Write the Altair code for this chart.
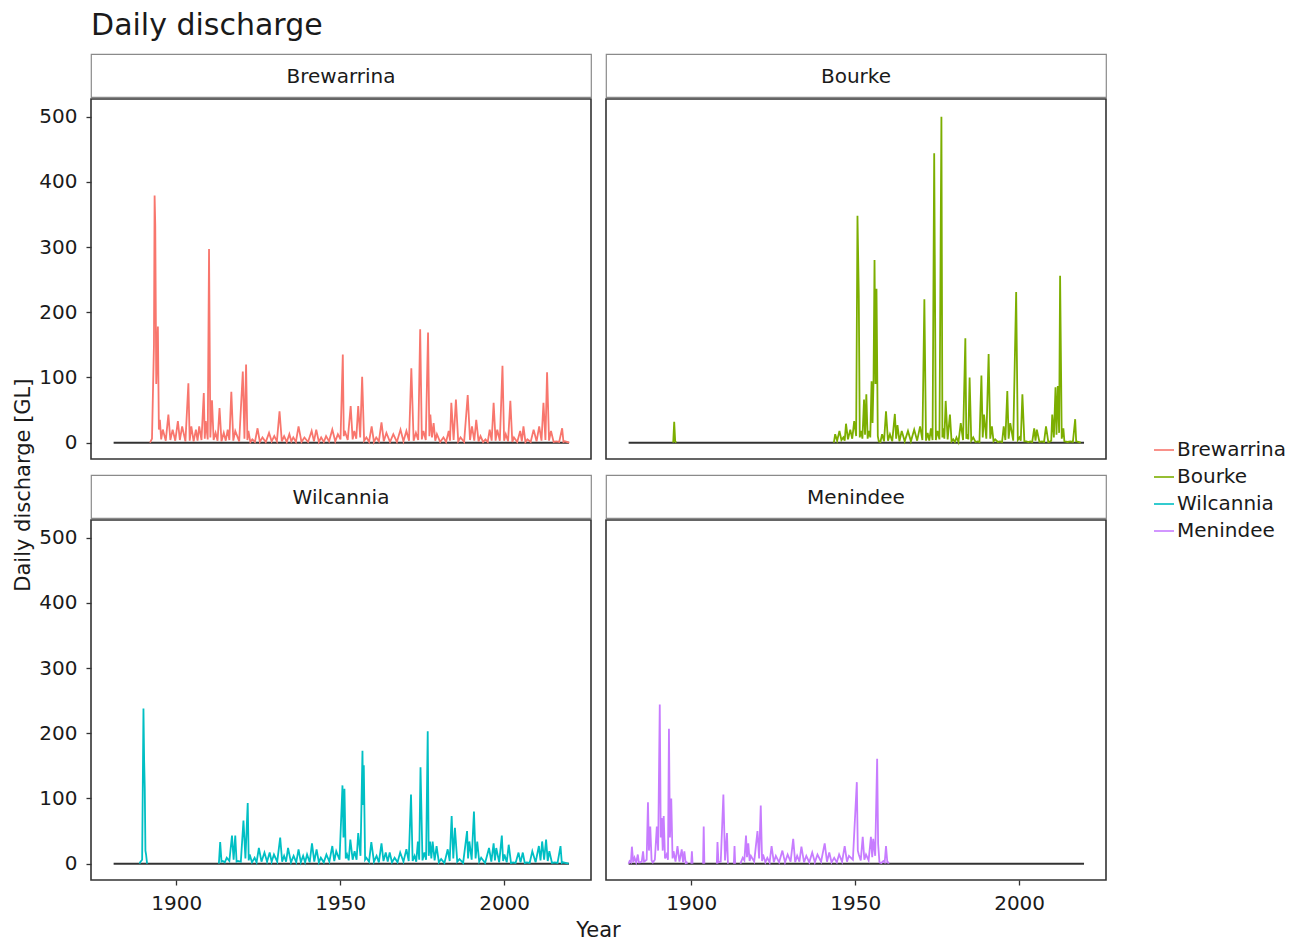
import altair as alt
import pandas as pd

stations = ["Brewarrina", "Bourke", "Wilcannia", "Menindee"]
colors = ["#F8766D", "#7CAE00", "#00BFC4", "#C77CFF"]

x_ticks = [1900, 1950, 2000]
y_ticks = [0, 100, 200, 300, 400, 500]

# Brewarrina daily discharge (GL)
bre_year = [1892.0, 1892.6, 1893.2, 1893.4, 1893.6, 1893.9, 1894.4, 1894.7, 1895.0, 1895.4, 1895.9, 1896.8, 1897.6, 1898.2, 1898.9, 1899.7,
            1900.5, 1901.1, 1901.8, 1902.8, 1903.7, 1904.1, 1904.6, 1905.3, 1906.0, 1906.5, 1907.0, 1907.7, 1908.4, 1908.7, 1909.0, 1909.6,
            1910.0, 1910.4, 1910.9, 1911.4, 1912.0, 1912.6, 1913.2, 1913.8, 1914.5, 1915.1, 1915.7, 1916.2, 1916.8, 1917.4, 1918.0, 1919.2,
            1920.3, 1920.8, 1921.3, 1921.7, 1922.0, 1922.6, 1923.2, 1924.0, 1924.8, 1925.5, 1926.3, 1927.3, 1928.3, 1929.1, 1929.9, 1930.7,
            1931.5, 1932.2, 1932.9, 1933.7, 1934.5, 1935.1, 1935.7, 1936.5, 1937.3, 1938.2, 1939.1, 1940.2, 1941.3, 1942.0, 1942.7, 1943.5,
            1944.2, 1945.0, 1945.7, 1946.6, 1947.6, 1948.5, 1949.3, 1950.1, 1950.8, 1951.1, 1951.4, 1952.3, 1953.2, 1953.8, 1954.3, 1954.9,
            1955.5, 1956.1, 1956.7, 1957.3, 1958.0, 1958.8, 1959.6, 1960.3, 1961.0, 1961.8, 1962.6, 1963.3, 1964.1, 1965.2, 1966.2, 1967.3,
            1968.4, 1969.3, 1970.2, 1971.0, 1971.7, 1972.4, 1973.1, 1973.8, 1974.4, 1974.9, 1975.4, 1976.1, 1976.8, 1977.2, 1977.5, 1978.0,
            1978.5, 1979.0, 1979.5, 1980.5, 1981.5, 1982.3, 1983.1, 1983.5, 1983.9, 1984.6, 1985.3, 1986.0, 1986.7, 1987.8, 1988.9, 1989.6,
            1990.2, 1990.9, 1991.5, 1992.2, 1992.8, 1993.6, 1994.3, 1995.0, 1995.6, 1996.2, 1996.8, 1997.4, 1997.9, 1998.7, 1999.5, 2000.0,
            2000.5, 2001.2, 2001.9, 2002.5, 2003.0, 2004.0, 2004.9, 2005.4, 2005.9, 2006.5, 2007.1, 2008.1, 2009.0, 2009.9, 2010.7, 2011.4,
            2012.0, 2012.6, 2013.1, 2013.7, 2014.3, 2015.1, 2015.9, 2016.8, 2017.7, 2018.1, 2018.5, 2019.9]
bre_q = [0, 6, 150, 379, 333, 90, 178, 20, 35, 5, 20, 3, 43, 4, 20, 3,
         33, 4, 25, 2, 91, 3, 25, 2, 20, 3, 25, 4, 76, 6, 33, 5,
         297, 8, 65, 4, 15, 3, 53, 2, 15, 3, 20, 4, 78, 3, 18, 2,
         109, 6, 120, 4, 18, 1, 5, 1, 22, 1, 8, 1, 15, 2, 10, 2,
         48, 2, 10, 1, 13, 2, 8, 1, 25, 1, 8, 1, 18, 2, 20, 1,
         8, 1, 10, 2, 20, 2, 13, 5, 135, 10, 18, 4, 56, 5, 18, 6,
         56, 8, 101, 3, 8, 1, 25, 1, 8, 2, 31, 2, 15, 1, 13, 1,
         20, 2, 18, 3, 114, 3, 15, 4, 174, 5, 18, 4, 169, 10, 43, 8,
         30, 3, 13, 1, 8, 1, 18, 3, 61, 4, 66, 2, 8, 1, 73, 4,
         25, 3, 35, 2, 10, 1, 5, 1, 20, 3, 61, 3, 20, 3, 118, 3,
         13, 2, 64, 1, 8, 1, 18, 2, 25, 1, 5, 1, 20, 2, 25, 3,
         61, 4, 108, 3, 18, 1, 2, 1, 22, 1, 2, 0]

# Bourke
bou_year = [1894.5, 1894.8, 1895.1, 1895.4, 1895.5,
            1943.5, 1943.9, 1944.5, 1945.2, 1945.8, 1946.4, 1946.8, 1947.2, 1947.8, 1948.5, 1949.1, 1949.7, 1950.3, 1950.7, 1951.1,
            1951.4, 1951.8, 1952.2, 1952.7, 1953.0, 1953.4, 1953.8, 1954.2, 1954.6, 1955.0, 1955.3, 1955.6, 1955.9, 1956.2, 1956.5,
            1956.9, 1957.2, 1957.7, 1958.2, 1958.8, 1959.4, 1960.0, 1960.6, 1961.3, 1962.1, 1962.5, 1962.9, 1963.5, 1964.2, 1965.1,
            1966.1, 1967.0, 1968.0, 1968.9, 1969.8, 1970.5, 1971.1, 1971.6, 1972.1, 1972.6, 1973.1, 1973.6, 1974.1, 1974.6, 1975.1,
            1975.7, 1976.3, 1976.6, 1976.9, 1977.2, 1977.6, 1978.2, 1978.9, 1979.4, 1979.9, 1980.4, 1980.9, 1981.5, 1982.2, 1982.9,
            1983.6, 1983.9, 1984.2, 1984.5, 1984.9, 1985.4, 1986.0, 1986.7, 1987.3, 1987.9, 1988.5, 1988.9, 1989.3, 1990.0, 1990.7,
            1991.2, 1991.7, 1992.2, 1992.7, 1993.5, 1994.2, 1994.8, 1995.3, 1995.8, 1996.4, 1996.8, 1997.3, 1998.2, 1999.1, 1999.6,
            2000.1, 2000.5, 2001.0, 2001.6, 2002.2, 2002.8, 2003.4, 2004.0, 2004.6, 2005.0, 2005.4, 2006.2, 2007.0, 2007.6, 2008.2,
            2008.9, 2009.5, 2009.8, 2010.1, 2010.6, 2011.1, 2011.4, 2011.8, 2012.2, 2012.5, 2013.0, 2013.5, 2013.8, 2014.0, 2014.8,
            2015.6, 2016.4, 2017.1, 2017.4, 2017.6, 2018.8]
bou_q = [0, 32, 2, 0, None,
         0, 13, 3, 18, 4, 8, 3, 29, 5, 20, 6, 33, 10, 348, 226,
         8, 18, 6, 66, 12, 74, 6, 18, 8, 94, 30, 97, 280, 90, 236,
         10, 2, 1, 13, 2, 48, 3, 13, 2, 44, 6, 27, 2, 18, 2,
         18, 2, 20, 3, 25, 4, 220, 3, 15, 3, 22, 4, 444, 4, 18,
         5, 500, 8, 22, 6, 64, 5, 43, 2, 5, 1, 8, 1, 30, 4,
         160, 6, 13, 5, 100, 3, 8, 1, 2, 1, 103, 8, 43, 6, 136,
         6, 25, 2, 5, 1, 2, 1, 25, 4, 79, 6, 30, 3, 231, 4,
         8, 3, 74, 2, 2, 1, 2, 1, 22, 3, 20, 1, 2, 1, 25,
         1, 2, 3, 43, 8, 85, 12, 87, 15, 256, 6, 22, 2, 2, 1,
         2, 1, 36, 2, 2, 0]

# Wilcannia
wil_year = [1888.8, 1889.0, 1889.6, 1890.0, 1890.2, 1890.4, 1890.6, 1890.8, 1891.1, 1891.2,
            1913.0, 1913.4, 1913.8, 1914.2, 1914.8, 1915.4, 1916.2, 1917.0, 1917.5, 1918.0, 1918.4, 1918.8, 1919.7, 1920.5, 1921.1,
            1921.8, 1922.1, 1922.4, 1923.1, 1923.9, 1924.5, 1925.2, 1926.0, 1926.9, 1927.7, 1928.5, 1929.1, 1929.8, 1930.8, 1931.7,
            1932.3, 1932.9, 1933.5, 1934.1, 1935.0, 1935.8, 1936.6, 1937.3, 1938.0, 1938.7, 1939.3, 1939.9, 1940.7, 1941.4, 1942.1,
            1942.8, 1943.5, 1944.1, 1945.0, 1945.8, 1946.7, 1947.6, 1948.2, 1948.8, 1949.8, 1950.7, 1951.0, 1951.3, 1951.7, 1952.1,
            1952.6, 1953.1, 1953.8, 1954.4, 1955.0, 1955.5, 1956.2, 1956.8, 1957.0, 1957.2, 1957.6, 1958.0, 1958.8, 1959.5, 1960.3,
            1961.1, 1961.8, 1962.6, 1963.2, 1963.9, 1964.5, 1965.1, 1965.8, 1966.6, 1967.5, 1968.3, 1969.3, 1970.2, 1970.9, 1971.6,
            1972.1, 1972.7, 1973.2, 1973.7, 1974.1, 1974.5, 1975.1, 1975.7, 1976.2, 1976.7, 1977.0, 1977.4, 1977.8, 1978.2, 1978.8,
            1979.4, 1980.1, 1980.8, 1981.8, 1982.8, 1983.4, 1984.0, 1984.5, 1985.0, 1985.7, 1986.4, 1987.5, 1988.7, 1989.0, 1989.4,
            1990.1, 1990.8, 1991.3, 1991.8, 1992.4, 1993.0, 1994.2, 1995.4, 1996.1, 1996.8, 1997.2, 1997.6, 1998.5, 1999.3, 1999.7,
            2000.1, 2000.8, 2001.4, 2002.1, 2002.7, 2003.5, 2004.4, 2005.0, 2005.7, 2006.3, 2006.9, 2007.8, 2008.6, 2009.6, 2010.6,
            2011.1, 2011.6, 2012.2, 2012.8, 2013.3, 2013.8, 2014.6, 2015.4, 2016.3, 2017.2, 2017.6, 2017.9, 2019.7]
wil_q = [0, 2, 6, 238, 160, 115, 20, 14, 0, None,
         0, 33, 3, 4, 2, 9, 4, 43, 6, 43, 3, 4, 3, 66, 8,
         93, 5, 14, 2, 9, 2, 24, 3, 17, 3, 17, 3, 14, 3, 40,
         3, 12, 3, 24, 2, 12, 2, 22, 2, 12, 2, 14, 2, 31, 3,
         22, 2, 9, 2, 14, 3, 27, 4, 19, 6, 120, 40, 115, 8, 14,
         5, 37, 6, 19, 6, 47, 12, 173, 90, 151, 6, 9, 3, 33, 3,
         12, 2, 31, 4, 17, 3, 17, 2, 9, 2, 17, 3, 22, 4, 106,
         4, 12, 3, 34, 6, 148, 5, 17, 6, 203, 12, 34, 8, 34, 5,
         27, 2, 7, 1, 22, 4, 73, 8, 55, 3, 7, 1, 50, 8, 34,
         6, 80, 8, 34, 3, 9, 1, 24, 3, 31, 5, 24, 2, 43, 4,
         14, 2, 29, 1, 2, 1, 17, 2, 17, 1, 2, 1, 19, 2, 27,
         5, 34, 6, 37, 4, 19, 1, 2, 1, 27, 1, 2, 0]

# Menindee
men_year = [1880.9, 1881.2, 1881.6, 1881.9, 1882.3, 1882.7, 1883.2, 1883.7, 1884.0, 1884.4, 1884.9, 1885.3, 1885.6, 1885.9, 1886.4,
            1886.8, 1887.1, 1887.5, 1887.9, 1888.3, 1888.9, 1889.5, 1889.9, 1890.4, 1890.7, 1891.0, 1891.3, 1891.6, 1892.0, 1892.5,
            1892.9, 1893.2, 1893.5, 1893.9, 1894.3, 1894.6, 1895.2, 1895.8, 1896.4, 1897.1, 1897.5, 1897.9, 1898.3, 1898.6, 1898.8,
            1898.9, 1900.0, 1900.2, 1900.4, 1900.5, 1903.6, 1903.8, 1904.0, 1904.1, 1907.8, 1908.0, 1908.3, 1909.0, 1909.8, 1910.3,
            1910.9, 1911.2, 1911.3, 1913.0, 1913.2, 1913.4, 1913.5,
            1915.0, 1915.7, 1916.2, 1916.7, 1917.0, 1917.4, 1917.8, 1918.2, 1919.2, 1920.2, 1920.7, 1921.2, 1921.6, 1921.9, 1922.6,
            1923.2, 1923.9, 1924.5, 1925.2, 1925.8, 1926.8, 1927.8, 1928.6, 1929.4, 1930.3, 1931.1, 1931.7, 1932.3, 1933.0, 1933.6,
            1934.4, 1935.1, 1936.0, 1936.9, 1937.7, 1938.5, 1939.6, 1940.7, 1941.4, 1942.1, 1942.8, 1943.6, 1944.4, 1945.1, 1946.0,
            1946.8, 1947.5, 1948.1, 1949.3, 1950.5, 1950.8, 1951.1, 1951.7, 1952.3, 1952.8, 1953.3, 1954.1, 1954.8, 1955.2, 1955.5,
            1956.1, 1956.7, 1957.0, 1957.4, 1958.0, 1958.6, 1959.0, 1959.4, 1959.8, 1960.1, 1960.2]
men_q = [0, 4, 2, 26, 2, 9, 2, 14, 2, 2, 3, 19, 3, 4, 6,
         94, 20, 57, 5, 2, 6, 57, 20, 244, 40, 70, 20, 73, 8, 14,
         6, 207, 40, 100, 8, 19, 3, 27, 3, 22, 2, 19, 1, 2, 0,
         None, 0, 19, 0, None, 0, 57, 0, None, 0, 33, 2, 3, 106, 5,
         47, 0, None, 0, 27, 0, None,
         0, 9, 5, 43, 10, 31, 4, 12, 3, 50, 8, 89, 4, 14, 2,
         9, 2, 27, 2, 12, 2, 20, 2, 14, 3, 38, 2, 12, 3, 26,
         2, 12, 2, 17, 2, 14, 3, 31, 3, 17, 2, 9, 2, 14, 3,
         27, 3, 12, 6, 125, 20, 14, 5, 41, 6, 14, 5, 41, 10, 38,
         12, 161, 30, 2, 1, 4, 2, 27, 2, 2, 0]

# dark zero line spanning the record period, shown under every series
base_year = [1880.9, 2019.8]
base_q = [0, 0]

series = {
    "Brewarrina": (bre_year, bre_q),
    "Bourke": (bou_year, bou_q),
    "Wilcannia": (wil_year, wil_q),
    "Menindee": (men_year, men_q),
}
frames = [pd.DataFrame({"station": name, "year": yrs, "q": qs}) for name, (yrs, qs) in series.items()]
df = pd.concat(frames, ignore_index=True)
base_df = pd.DataFrame({"year": base_year, "q": base_q})

FONT = "DejaVu Sans"
DARK = "#333333"
TXT = "#1a1a1a"
PW, PH, SH = 500, 360, 43
X_DOMAIN = [1874.0, 2026.5]
Y_DOMAIN = [-25.1, 527.1]


def panel(i):
    name = stations[i]
    bottom = i >= 2
    left = i % 2 == 0
    xaxis = alt.Axis(values=x_ticks, format="d", title=None, grid=False, domain=False,
                     tickSize=5, tickColor=DARK, tickWidth=1.3, labelPadding=8,
                     labelFontSize=20, labelColor=TXT) if bottom else None
    yaxis = alt.Axis(values=y_ticks, title=None, grid=False, domain=False,
                     tickSize=5, tickColor=DARK, tickWidth=1.3, labelPadding=9,
                     labelFontSize=20, labelColor=TXT) if left else None
    x = alt.X("year:Q", scale=alt.Scale(domain=X_DOMAIN, nice=False, zero=False), axis=xaxis)
    y = alt.Y("q:Q", scale=alt.Scale(domain=Y_DOMAIN, nice=False, zero=False), axis=yaxis)
    base = alt.Chart(base_df).mark_line(color=DARK, strokeWidth=2).encode(x=x, y=y)
    line = alt.Chart(df[df.station == name]).mark_line(strokeWidth=1.8).encode(
        x=x, y=y,
        color=alt.Color("station:N", scale=alt.Scale(domain=stations, range=colors),
                        legend=alt.Legend(title=None, orient="none", legendX=1062, legendY=385,
                                          symbolType="stroke", symbolSize=400, symbolStrokeWidth=1.6,
                                          labelFontSize=20, labelColor=TXT, rowPadding=6,
                                          labelOffset=2)))
    plot = alt.layer(base, line).properties(width=PW, height=PH)
    strip = alt.Chart(pd.DataFrame({"label": [name]})).mark_text(
        fontSize=20, color=TXT, baseline="middle", align="center").encode(
        text="label:N", x=alt.value(PW / 2), y=alt.value(SH / 2 + 1)).properties(
        width=PW, height=SH, view=alt.ViewBackground(stroke="#8a8a8a", strokeWidth=1.2))
    return alt.vconcat(strip, plot, spacing=0)


row1 = alt.hconcat(panel(0), panel(1), spacing=13)
row2 = alt.hconcat(panel(2), panel(3), spacing=13)
grid = alt.vconcat(row1, row2, spacing=14).properties(
    title=alt.Title("Year", orient="bottom", anchor="middle", fontSize=21, fontWeight="normal",
                    color=TXT, offset=6, dx=26))
with_y = alt.vconcat(grid).properties(
    title=alt.Title("Daily discharge [GL]", orient="left", anchor="middle", fontSize=21,
                    fontWeight="normal", color=TXT, offset=4, dx=12))
chart = alt.vconcat(with_y).properties(
    title=alt.Title("Daily discharge", anchor="start", fontSize=30, fontWeight="normal",
                    color=TXT, offset=12, dx=78),
    padding={"left": 5, "top": 3, "right": 5, "bottom": 5},
).resolve_scale(color="shared").configure(font=FONT).configure_view(
    stroke=DARK, strokeWidth=1.6).configure_concat(spacing=0)

chart.save("out.html", embed_options={"renderer": "svg", "actions": False})
